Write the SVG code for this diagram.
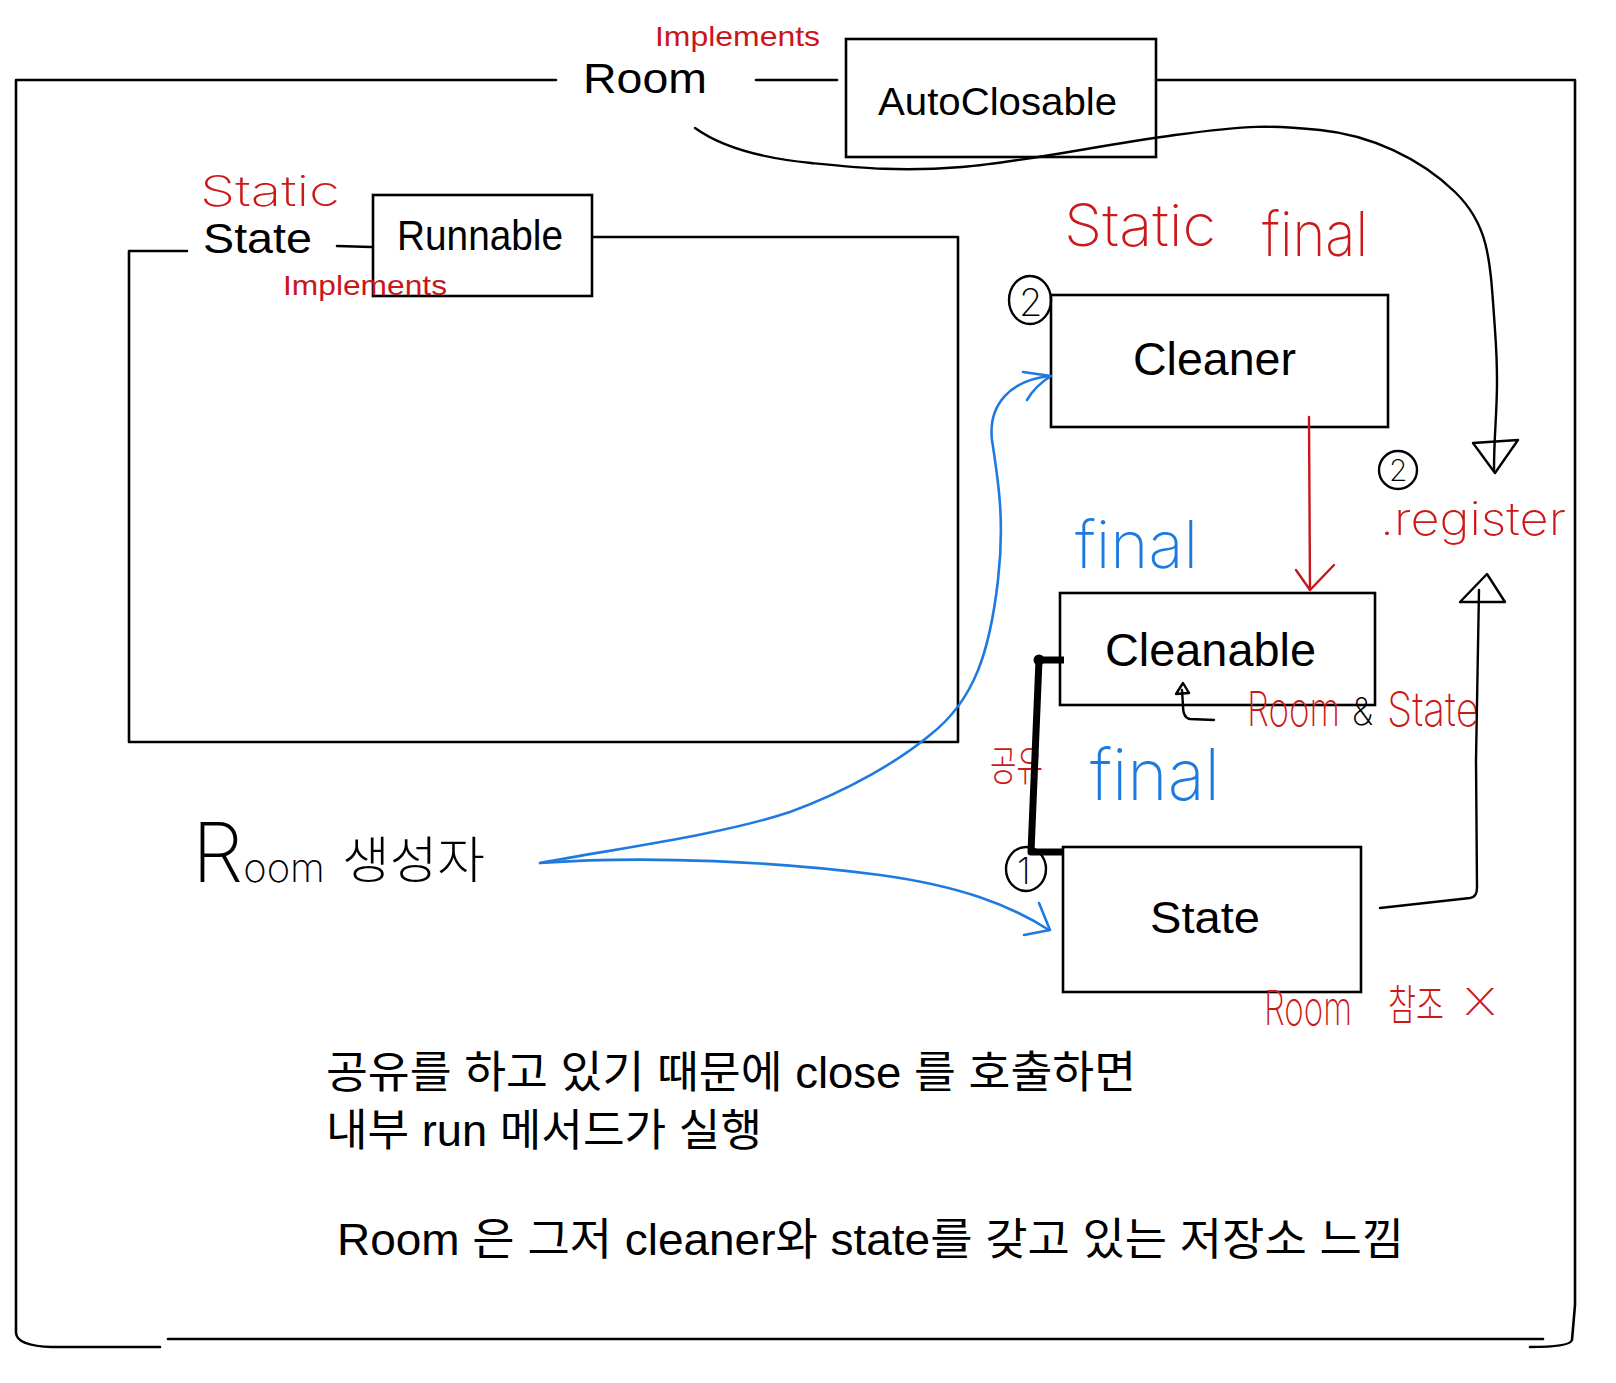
<svg xmlns="http://www.w3.org/2000/svg" width="1616" height="1383" viewBox="0 0 1616 1383">
<style>
  .ln { fill: none; stroke: #000; stroke-width: 2.6; stroke-linecap: round; stroke-linejoin: round; }
  .box { fill: #fff; stroke: #000; stroke-width: 2.6; }
  .thin { fill: none; stroke: #000; stroke-width: 2.4; stroke-linecap: round; stroke-linejoin: round; }
  .red-ln { fill: none; stroke: #c8161d; stroke-width: 2.4; stroke-linecap: round; stroke-linejoin: round; }
  .blue-ln { fill: none; stroke: #1f7ae0; stroke-width: 2.6; stroke-linecap: round; stroke-linejoin: round; }
  .txt { font-family: "Liberation Sans", Arial, Helvetica, sans-serif; fill: #000; }
  .red { fill: #c8161d; }
  .kr { font-family: "Liberation Sans", "Noto Sans CJK KR", sans-serif; fill: #000; }
  .hand { font-family: Inter, "Noto Sans", "Noto Sans CJK KR", sans-serif; font-weight: 200; }
  .hred { fill: #cc1818; }
  .hblue { fill: #1f7ae0; }
  .hblack { fill: #000; }
</style>

<!-- Room outer frame node -->
<g id="room">
  <path class="ln" d="M556 80 H16 V1333 Q17 1346 52 1347 H160"/>
  <path class="ln" d="M168 1339 H1543"/>
  <path class="ln" d="M1156 80 H1575 V1305 L1572 1340 Q1570 1347 1530 1347"/>
  <text class="txt" x="583" y="93" font-size="42" textLength="124" lengthAdjust="spacingAndGlyphs">Room</text>
  <text class="txt red" x="655" y="46" font-size="28" textLength="165" lengthAdjust="spacingAndGlyphs">Implements</text>
</g>

<!-- AutoClosable node -->
<g id="autoclosable">
  <rect class="box" x="846" y="39" width="310" height="118"/>
  <text class="txt" x="878" y="115" font-size="39" textLength="239" lengthAdjust="spacingAndGlyphs">AutoClosable</text>
</g>

<!-- inner State class node -->
<g id="state-class">
  <path class="ln" d="M187 251 H129 V742 H958 V237 H586"/>
  <text class="txt" x="203" y="253" font-size="43" textLength="109" lengthAdjust="spacingAndGlyphs">State</text>
  <text class="hand hred" x="200" y="206" font-size="42" textLength="140" lengthAdjust="spacingAndGlyphs">Static</text>
</g>

<!-- Runnable node -->
<g id="runnable">
  <rect class="box" x="373" y="195" width="219" height="101"/>
  <text class="txt" x="397" y="250" font-size="42" textLength="166" lengthAdjust="spacingAndGlyphs">Runnable</text>
  <text class="txt red" x="283" y="295" font-size="28" textLength="164" lengthAdjust="spacingAndGlyphs">Implements</text>
</g>

<!-- Cleaner node -->
<g id="cleaner">
  <rect class="box" x="1051" y="295" width="337" height="132"/>
  <text class="txt" x="1133" y="375" font-size="46" textLength="163" lengthAdjust="spacingAndGlyphs">Cleaner</text>
  <ellipse class="thin" cx="1030" cy="300" rx="21" ry="24"/>
  <text class="hand hblack" x="1019" y="316" font-size="38">2</text>
  <text class="hand hred" x="1064" y="246" font-size="58" textLength="152" lengthAdjust="spacingAndGlyphs">Static</text>
  <text class="hand hred" x="1262" y="256" font-size="62" textLength="106" lengthAdjust="spacingAndGlyphs">final</text>
</g>

<!-- Cleanable node -->
<g id="cleanable">
  <rect class="box" x="1060" y="593" width="315" height="112"/>
  <text class="txt" x="1105" y="666" font-size="46" textLength="211" lengthAdjust="spacingAndGlyphs">Cleanable</text>
  <text class="hand hblue" x="1075" y="568" font-size="66" textLength="123" lengthAdjust="spacingAndGlyphs">final</text>
  <text class="hand hred" x="1247" y="726" font-size="48" textLength="93" lengthAdjust="spacingAndGlyphs">Room</text>
  <text class="hand hblack" x="1352" y="725" font-size="38" textLength="21" lengthAdjust="spacingAndGlyphs">&amp;</text>
  <text class="hand hred" x="1387" y="726" font-size="48" textLength="92" lengthAdjust="spacingAndGlyphs">State</text>
</g>

<!-- State node -->
<g id="state">
  <rect class="box" x="1063" y="847" width="298" height="145"/>
  <text class="txt" x="1150" y="933" font-size="44" textLength="110" lengthAdjust="spacingAndGlyphs">State</text>
  <ellipse class="thin" cx="1026" cy="869" rx="20" ry="22"/>
  <text class="hand hblack" x="1017" y="884" font-size="36">1</text>
  <text class="hand hred" x="1264" y="1025" font-size="48" textLength="88" lengthAdjust="spacingAndGlyphs">Room</text>
  <text class="hand hred" x="1388" y="1020" font-size="42" textLength="56" lengthAdjust="spacingAndGlyphs">참조</text>
  <text class="hand hred" x="1464" y="1015" font-size="36" textLength="32" lengthAdjust="spacingAndGlyphs">X</text>
</g>

<!-- register label -->
<g id="register">
  <ellipse class="thin" cx="1398" cy="470" rx="19" ry="19"/>
  <text class="hand hblack" x="1389" y="481" font-size="30">2</text>
  <text class="hand hred" x="1380" y="535" font-size="46" textLength="186" lengthAdjust="spacingAndGlyphs">.register</text>
</g>

<!-- Room constructor label -->
<g id="room-constructor">
  <text class="hand hblack" x="192" y="882"><tspan font-size="82">R</tspan><tspan font-size="40">oom</tspan></text>
  <text class="hand hblack" x="342" y="878" font-size="50" textLength="143" lengthAdjust="spacingAndGlyphs">생성자</text>
</g>

<!-- shared label -->
<g id="shared">
  <text class="hand hred" x="990" y="781" font-size="42" textLength="53" lengthAdjust="spacingAndGlyphs">공유</text>
  <text class="hand hblue" x="1090" y="800" font-size="72" textLength="130" lengthAdjust="spacingAndGlyphs">final</text>
</g>

<!-- notes -->
<g id="notes">
  <text class="kr" x="326" y="1088" font-size="44" textLength="810" lengthAdjust="spacingAndGlyphs">공유를 하고 있기 때문에 close 를 호출하면</text>
  <text class="kr" x="326" y="1146" font-size="44" textLength="436" lengthAdjust="spacingAndGlyphs">내부 run 메서드가 실행</text>
  <text class="kr" x="337" y="1255" font-size="44" textLength="1067" lengthAdjust="spacingAndGlyphs">Room 은 그저 cleaner와 state를 갖고 있는 저장소 느낌</text>
</g>

<!-- connectors -->
<g id="connectors">
  <path class="ln" d="M756 80 H837"/>
  <path class="ln" d="M337 246 L371 247"/>
  <!-- Room -> register -->
  <path class="thin" d="M695 128 C720 146 760 158 811 163 S900 172 962 167 S1100 145 1175 135 S1270 125 1320 130 S1420 158 1455 192 S1490 260 1495 330 S1494 420 1494 470"/>
  <path class="thin" d="M1473 443 L1518 440 L1495 473 Z"/>
  <!-- Cleaner -> Cleanable -->
  <path class="red-ln" d="M1309 417 L1310 590"/>
  <path class="red-ln" d="M1296 570 L1310 590 L1334 565"/>
  <!-- State -> register -->
  <path class="thin" d="M1380 908 L1470 898 Q1477 897 1477 888 L1476 760 L1479 590"/>
  <path class="thin" d="M1460 602 L1487 574 L1505 602 Z"/>
  <!-- shared thick link -->
  <path d="M1064 660 H1039 L1031 852 H1064" fill="none" stroke="#000" stroke-width="7" stroke-linejoin="round"/>
  <circle cx="1039" cy="660" r="5.5" fill="#000"/>
  <!-- small arrow under Cleanable -->
  <path class="thin" d="M1214 720 L1190 719 Q1183 718 1183 706 L1182 690"/>
  <path class="thin" d="M1176 694 L1183 683 L1189 693 Z" fill="#000"/>
  <!-- blue constructor arrows -->
  <path class="blue-ln" d="M540 863 C620 848 720 835 790 812 C850 790 900 760 930 735 C975 700 990 650 998 580 C1005 520 998 480 992 440 C988 405 1010 380 1050 376"/>
  <path class="blue-ln" d="M1023 372 L1051 376 Q1035 386 1027 400"/>
  <path class="blue-ln" d="M540 863 C650 855 780 862 880 875 C960 886 1010 905 1049 930"/>
  <path class="blue-ln" d="M1039 903 L1050 930 L1024 935"/>
</g>
</svg>
